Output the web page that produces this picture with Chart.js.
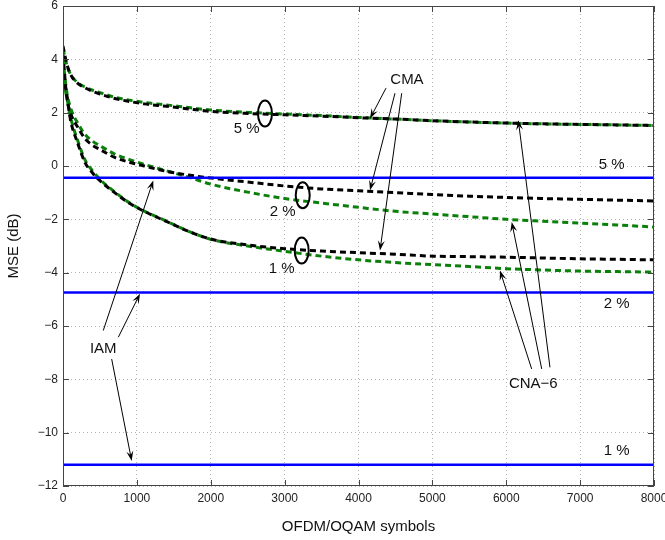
<!DOCTYPE html>
<html>
<head>
<meta charset="utf-8">
<script src="https://cdn.jsdelivr.net/npm/chart.js@4.4.1/dist/chart.umd.min.js"></script>
<style>
    html, body { margin: 0; padding: 0; background: #fff; }
    #wrap { width: 665px; height: 540px; }
</style>
</head>
<body>
<div id="wrap"><canvas id="mseChart" width="665" height="540"></canvas></div>
<script>
// valeurs (MSE en dB)
const symbols = [0, 50, 100, 200, 300, 400, 500, 700, 900, 1100, 1400, 1700, 2000, 2500, 3000, 3500, 4000, 4500, 5000, 5500, 6000, 6500, 7000, 7500, 8000];

const cma5 = [4.5, 3.85, 3.45, 3.1, 2.93, 2.8, 2.7, 2.53, 2.42, 2.33, 2.24, 2.14, 2.05, 1.97, 1.92, 1.87, 1.81, 1.76, 1.7, 1.65, 1.61, 1.58, 1.56, 1.54, 1.52];
const cna5 = [4.4, 3.8, 3.45, 3.12, 2.96, 2.84, 2.75, 2.58, 2.47, 2.38, 2.29, 2.19, 2.1, 2.01, 1.95, 1.89, 1.82, 1.76, 1.7, 1.65, 1.61, 1.58, 1.56, 1.54, 1.52];
const cma2 = [4.2, 2.6, 2.0, 1.45, 1.02, 0.78, 0.62, 0.32, 0.14, 0.0, -0.2, -0.34, -0.45, -0.6, -0.75, -0.86, -0.93, -1.0, -1.07, -1.13, -1.18, -1.22, -1.25, -1.28, -1.31];
const cna2 = [4.0, 2.8, 2.2, 1.6, 1.18, 0.93, 0.76, 0.45, 0.24, 0.06, -0.18, -0.42, -0.68, -0.98, -1.22, -1.39, -1.55, -1.7, -1.8, -1.9, -2.0, -2.07, -2.14, -2.21, -2.29];
const cma1 = [3.4, 2.7, 1.75, 0.85, 0.12, -0.26, -0.55, -1.0, -1.4, -1.7, -2.08, -2.45, -2.74, -2.96, -3.1, -3.19, -3.25, -3.31, -3.38, -3.4, -3.42, -3.45, -3.48, -3.5, -3.52];
const cna1 = [3.2, 2.6, 1.85, 0.95, 0.22, -0.18, -0.5, -0.97, -1.38, -1.69, -2.07, -2.45, -2.75, -3.0, -3.2, -3.38, -3.52, -3.62, -3.7, -3.77, -3.85, -3.9, -3.94, -3.96, -3.98];

// niveaux IAM pour 5 %, 2 % et 1 %
const iamLevels = [-0.44, -4.74, -11.2];

const xRange = [0, 8000];
const yRange = [-12, 6];

// annotations (en coordonnées des données)
const notes = [
    { text: 'CMA', x: 4656, y: 3.22 },
    { text: '5 %', x: 2487, y: 1.40 },
    { text: '2 %', x: 2974, y: -1.73 },
    { text: '1 %', x: 2960, y: -3.85 },
    { text: '5 %', x: 7427, y: 0.03 },
    { text: '2 %', x: 7495, y: -5.17 },
    { text: '1 %', x: 7495, y: -10.68 },
    { text: 'IAM', x: 545, y: -6.86 },
    { text: 'CNA\u22126', x: 6366, y: -8.17 }
];
const arrows = [
    [4372, 2.92, 4156, 1.78], [4494, 2.73, 4156, -0.91], [4585, 2.73, 4291, -3.17],
    [545, -6.17, 1222, -0.54], [749, -6.42, 1042, -4.79], [659, -7.24, 930, -11.06],
    [6344, -7.61, 5915, -3.92], [6480, -7.61, 6074, -2.1], [6592, -7.55, 6163, 1.72]
];
const ellipses = [
    { x: 2734, y: 1.97 }, { x: 3245, y: -1.1 }, { x: 3231, y: -3.17 }
];

const FONT = '"Liberation Sans", Arial, Helvetica, sans-serif';
const GREEN = 'rgb(10,128,10)';

function toPoints(ys) {
    return symbols.map((s, i) => ({ x: s, y: ys[i] }));
}

function curve(label, ys, color) {
    return {
        label: label,
        data: toPoints(ys),
        borderColor: color,
        borderWidth: 3,
        borderDash: [6, 4],
        pointRadius: 0,
        cubicInterpolationMode: 'monotone',
        fill: false
    };
}

function iamLine(level) {
    return {
        label: 'IAM',
        data: xRange.map(x => ({ x: x, y: level })),
        borderColor: 'rgb(0,0,255)',
        borderWidth: 2.5,
        pointRadius: 0,
        fill: false
    };
}

const minus = v => String(v).replace('-', '\u2212');

function drawArrow(ctx, x1, y1, x2, y2) {
    const ang = Math.atan2(y2 - y1, x2 - x1);
    const len = 10, half = 3.5;
    ctx.beginPath();
    ctx.moveTo(x1, y1);
    ctx.lineTo(x2 - Math.cos(ang) * len * 0.6, y2 - Math.sin(ang) * len * 0.6);
    ctx.stroke();
    ctx.beginPath();
    ctx.moveTo(x2, y2);
    ctx.lineTo(x2 - Math.cos(ang) * len - Math.sin(ang) * half, y2 - Math.sin(ang) * len + Math.cos(ang) * half);
    ctx.lineTo(x2 - Math.cos(ang) * len * 0.6, y2 - Math.sin(ang) * len * 0.6);
    ctx.lineTo(x2 - Math.cos(ang) * len + Math.sin(ang) * half, y2 - Math.sin(ang) * len - Math.cos(ang) * half);
    ctx.closePath();
    ctx.fill();
}

const decorPlugin = {
    id: 'decor',
    afterDraw(chart) {
        const { ctx, chartArea: a, scales: { x, y } } = chart;
        ctx.save();

        // cadre et graduations intérieures
        ctx.strokeStyle = '#444';
        ctx.lineWidth = 1;
        ctx.strokeRect(a.left + 0.5, a.top + 0.5, a.right - a.left - 1, a.bottom - a.top - 1);
        ctx.beginPath();
        x.ticks.forEach(t => {
            const px = Math.round(x.getPixelForValue(t.value)) + 0.5;
            ctx.moveTo(px, a.bottom); ctx.lineTo(px, a.bottom - 6);
            ctx.moveTo(px, a.top); ctx.lineTo(px, a.top + 6);
        });
        y.ticks.forEach(t => {
            const py = Math.round(y.getPixelForValue(t.value)) + 0.5;
            ctx.moveTo(a.left, py); ctx.lineTo(a.left + 6, py);
            ctx.moveTo(a.right, py); ctx.lineTo(a.right - 6, py);
        });
        ctx.stroke();

        // ellipses
        ctx.strokeStyle = '#000';
        ctx.lineWidth = 2;
        ellipses.forEach(e => {
            ctx.beginPath();
            ctx.ellipse(x.getPixelForValue(e.x), y.getPixelForValue(e.y), 7, 13, 0, 0, Math.PI * 2);
            ctx.stroke();
        });

        // flèches
        ctx.lineWidth = 1;
        ctx.fillStyle = '#000';
        arrows.forEach(r => {
            drawArrow(ctx, x.getPixelForValue(r[0]), y.getPixelForValue(r[1]),
                x.getPixelForValue(r[2]), y.getPixelForValue(r[3]));
        });

        // textes
        ctx.fillStyle = '#111';
        ctx.font = '15px ' + FONT;
        ctx.textAlign = 'center';
        ctx.textBaseline = 'middle';
        notes.forEach(n => {
            ctx.fillText(n.text, x.getPixelForValue(n.x), y.getPixelForValue(n.y));
        });
        ctx.restore();
    }
};

new Chart(document.getElementById('mseChart'), {
    type: 'line',
    data: {
        datasets: [
            ...iamLevels.map(iamLine),
            curve('CMA 5 %', cma5, '#000'),
            curve('CNA-6 5 %', cna5, GREEN),
            curve('CMA 2 %', cma2, '#000'),
            curve('CNA-6 2 %', cna2, GREEN),
            curve('CMA 1 %', cma1, '#000'),
            curve('CNA-6 1 %', cna1, GREEN)
        ]
    },
    options: {
        responsive: false,
        animation: false,
        devicePixelRatio: 1,
        layout: { padding: { left: 0, right: 11, top: 6, bottom: 0 } },
        plugins: { legend: { display: false }, tooltip: { enabled: false } },
        scales: {
            x: {
                type: 'linear',
                min: xRange[0], max: xRange[1],
                ticks: { stepSize: 1000, maxRotation: 0, padding: 5, color: '#222', font: { family: FONT, size: 12 }, callback: minus },
                grid: { color: '#b5b5b5', drawTicks: false },
                border: { display: false, dash: [1, 3] },
                title: { display: true, text: 'OFDM/OQAM symbols', color: '#111', font: { family: FONT, size: 15 }, padding: { top: 0, bottom: 4 } },
                afterFit: s => { s.height = 54; s.paddingLeft = 0; s.paddingRight = 0; }
            },
            y: {
                min: yRange[0], max: yRange[1],
                ticks: { stepSize: 2, padding: 5, color: '#222', font: { family: FONT, size: 12 }, callback: minus },
                grid: { color: '#b5b5b5', drawTicks: false },
                border: { display: false, dash: [1, 3] },
                title: { display: true, text: 'MSE (dB)', color: '#111', font: { family: FONT, size: 15 }, padding: { top: 5, bottom: 0 } },
                afterFit: s => { s.width = 63; s.paddingTop = 0; s.paddingBottom = 0; }
            }
        }
    },
    plugins: [decorPlugin]
});
</script>
</body>
</html>
